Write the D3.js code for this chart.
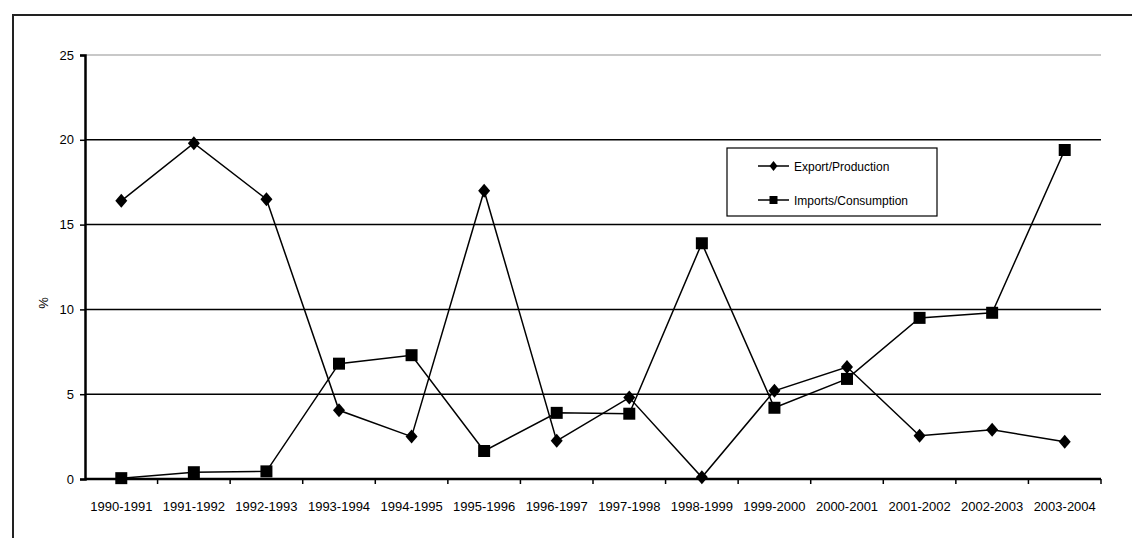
<!DOCTYPE html>
<html>
<head>
<meta charset="utf-8">
<script src="https://cdn.jsdelivr.net/npm/d3@7"></script>
<style>
  html, body { margin: 0; padding: 0; background: #fff; }
  svg { display: block; }
  text { font-family: "Liberation Sans", Arial, sans-serif; fill: #000; }
</style>
</head>
<body>
<svg id="chart" width="1132" height="538"></svg>
<script>
// Harvest years
const seasons = ["1990-1991","1991-1992","1992-1993","1993-1994","1994-1995","1995-1996","1996-1997",
                 "1997-1998","1998-1999","1999-2000","2000-2001","2001-2002","2002-2003","2003-2004"];
// Share of production exported (%)
const exportProduction = [16.4, 19.8, 16.5, 4.05, 2.5, 17.0, 2.25, 4.8, 0.1, 5.2, 6.6, 2.55, 2.9, 2.2];
// Share of consumption imported (%)
const importsConsumption = [0.05, 0.4, 0.45, 6.8, 7.3, 1.65, 3.9, 3.85, 13.9, 4.2, 5.9, 9.5, 9.8, 19.4];
const yTicks = [0, 5, 10, 15, 20, 25];

const svg = d3.select("#chart");
const margin = { left: 85, right: 1101, top: 55, bottom: 479 };
const FONT = "Liberation Sans, Arial, sans-serif";

// outer frame
svg.append("path")
  .attr("d", "M13,540 L13,15 L1134,15")
  .attr("fill", "none").attr("stroke", "#222").attr("stroke-width", 2);

const x = d3.scaleBand().domain(seasons).range([margin.left, margin.right]);
const y = d3.scaleLinear().domain([0, 25]).range([margin.bottom, margin.top]);

// horizontal gridlines
svg.append("g").selectAll("line").data(yTicks.filter(d => d > 0)).join("line")
  .attr("x1", margin.left).attr("x2", margin.right)
  .attr("y1", d => y(d)).attr("y2", d => y(d))
  .attr("stroke", d => d === 25 ? "#c8c8c8" : "#000")
  .attr("stroke-width", d => d === 25 ? 2 : 1.5);

// y axis
const yAxis = svg.append("g").attr("transform", `translate(${margin.left},0)`)
  .call(d3.axisLeft(y).tickValues(yTicks).tickSize(5).tickPadding(6).tickFormat(d3.format("d")));
yAxis.select(".domain").attr("stroke", "#000").attr("stroke-width", 2.5);
yAxis.selectAll(".tick line").attr("stroke", "#000").attr("stroke-width", 1.5);
yAxis.selectAll(".tick text").attr("font-size", 13).attr("font-family", FONT).attr("fill", "#000");

// x axis with ticks at category boundaries
const xAxis = svg.append("g").attr("transform", `translate(0,${margin.bottom})`)
  .call(d3.axisBottom(x).tickSize(0).tickPadding(23));
xAxis.select(".domain").remove();
xAxis.selectAll(".tick text").attr("font-size", 13).attr("font-family", FONT).attr("fill", "#000");
xAxis.append("line").attr("x1", margin.left).attr("x2", margin.right)
  .attr("y1", 0).attr("y2", 0).attr("stroke", "#000").attr("stroke-width", 2.5);
const bounds = seasons.slice(1).map(s => x(s)).concat([margin.right]);
xAxis.selectAll(".bnd").data(bounds).join("line").attr("class", "bnd")
  .attr("x1", d => d).attr("x2", d => d)
  .attr("y1", 0).attr("y2", 5).attr("stroke", "#000").attr("stroke-width", 1.5);

// y axis title
svg.append("text").attr("transform", "translate(48,303) rotate(-90)")
  .attr("text-anchor", "middle").attr("font-size", 13).text("%");

const cx = d => x(d) + x.bandwidth() / 2;
const line = d3.line().x(d => cx(d[0])).y(d => y(d[1]));

// rhombus marker: half-width w, half-height h
const rhombus = (w, h) => `M0,${-h}L${w},0L0,${h}L${-w},0Z`;
const box = s => `M${-s},${-s}H${s}V${s}H${-s}Z`;

function drawSeries(values, shape) {
  const pts = seasons.map((s, i) => [s, values[i]]);
  svg.append("path").datum(pts).attr("d", line)
    .attr("fill", "none").attr("stroke", "#000").attr("stroke-width", 1.5);
  svg.append("g").selectAll("path").data(pts).join("path")
    .attr("d", shape).attr("transform", d => `translate(${cx(d[0])},${y(d[1])})`)
    .attr("fill", "#000");
}
drawSeries(exportProduction, rhombus(6, 7));
drawSeries(importsConsumption, box(6));

// legend
const lg = svg.append("g").attr("transform", "translate(727,148)");
lg.append("rect").attr("width", 210).attr("height", 68)
  .attr("fill", "#fff").attr("stroke", "#000").attr("stroke-width", 1.2);
const items = [["Export/Production", rhombus(4, 5)], ["Imports/Consumption", box(4)]];
items.forEach((it, i) => {
  const yy = 18 + i * 34;
  lg.append("line").attr("x1", 31).attr("x2", 62).attr("y1", yy).attr("y2", yy)
    .attr("stroke", "#000").attr("stroke-width", 1.5);
  lg.append("path").attr("d", it[1])
    .attr("transform", `translate(46.5,${yy})`).attr("fill", "#000");
  lg.append("text").attr("x", 67).attr("y", yy + 4.5).attr("font-size", 12).text(it[0]);
});
</script>
</body>
</html>
